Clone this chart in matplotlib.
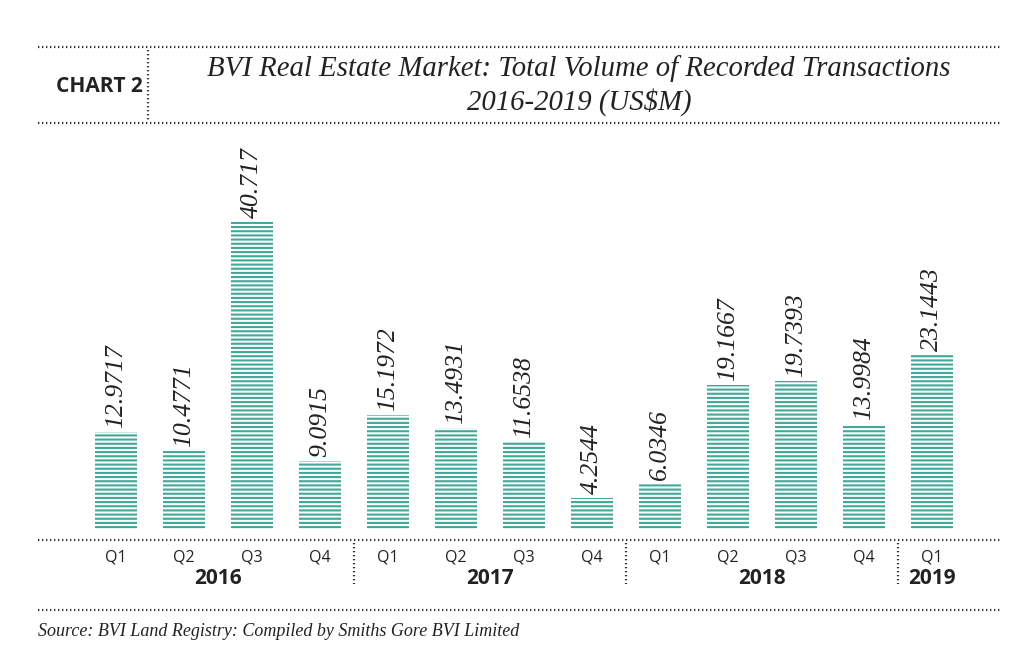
import matplotlib.pyplot as plt
from matplotlib.lines import Line2D

quarters = ["Q1", "Q2", "Q3", "Q4", "Q1", "Q2", "Q3", "Q4", "Q1", "Q2", "Q3", "Q4", "Q1"]
years = ["2016", "2017", "2018", "2019"]
year_quarters = [4, 4, 4, 1]
values = [12.9717, 10.4771, 40.717, 9.0915, 15.1972, 13.4931, 11.6538, 4.2544,
          6.0346, 19.1667, 19.7393, 13.9984, 23.1443]
labels = ["12.9717", "10.4771", "40.717", "9.0915", "15.1972", "13.4931", "11.6538",
          "4.2544", "6.0346", "19.1667", "19.7393", "13.9984", "23.1443"]

W, H = 1024, 659
teal = "#3fa898"
serif = ["Liberation Serif", "DejaVu Serif"]
sans = ["Open Sans", "DejaVu Sans"]

plt.rcParams["hatch.color"] = teal
plt.rcParams["hatch.linewidth"] = 1.5

fig = plt.figure(figsize=(W / 100, H / 100), dpi=100)


def fx(px):
    return px / W


def fy(py):
    return 1 - py / H


def dotted(x0, y0, x1, y1):
    fig.add_artist(Line2D([fx(x0), fx(x1)], [fy(y0), fy(y1)], color="#333333",
                          lw=1.6, linestyle=(0, (0.6, 1.2)), transform=fig.transFigure))


# axes spanning the bar area
ax_l, ax_r, ax_t, ax_b = 38, 1000, 123, 540
ax = fig.add_axes([fx(ax_l), fy(ax_b), fx(ax_r - ax_l), fy(ax_t) - fy(ax_b)])
step = 68
x0 = (116 - ax_l) / step
ax.set_xlim(-x0, -x0 + (ax_r - ax_l) / step)
ppu = 308 / 40.717
ax.set_ylim(-10 / ppu, -10 / ppu + (ax_b - ax_t) / ppu)
ax.axis("off")

xs = list(range(len(values)))
ax.bar(xs, values, width=0.62, color="white", edgecolor=teal, linewidth=0, hatch="----")
for x, v, s in zip(xs, values, labels):
    ax.annotate(s, (x, v), xytext=(0, 3), textcoords="offset points", rotation=90,
                ha="center", va="bottom", fontsize=18.5, style="italic", family=serif,
                color="#222222")

# horizontal dotted rules
dotted(38, 47, 1000, 47)
dotted(38, 123, 1000, 123)
dotted(38, 540, 1000, 540)
dotted(38, 610, 1000, 610)
dotted(148, 50, 148, 120)

# quarter and year labels
for x, q in zip(xs, quarters):
    fig.text(fx(116 + x * step), fy(557), q, ha="center", va="center",
             fontsize=11.5, family=sans, color="#222222")
start = 0
for y, n in zip(years, year_quarters):
    mid = start + (n - 1) / 2
    fig.text(fx(116 + mid * step), fy(578), y, ha="center", va="center",
             fontsize=15, fontweight="bold", family=sans, color="#222222")
    if start > 0:
        sep = 116 + (start - 0.5) * step
        dotted(sep, 543, sep, 584)
    start += n

fig.text(fx(99), fy(87), "CHART 2", ha="center", va="center", fontsize=15,
         fontweight="bold", family=sans, color="#222222")
fig.text(fx(579), fy(69), "BVI Real Estate Market: Total Volume of Recorded Transactions",
         ha="center", va="center", fontsize=20.7, style="italic", family=serif, color="#222222")
fig.text(fx(579), fy(102), "2016-2019 (US$M)", ha="center", va="center",
         fontsize=20.7, style="italic", family=serif, color="#222222")
fig.text(fx(38), fy(632), "Source: BVI Land Registry: Compiled by Smiths Gore BVI Limited",
         ha="left", va="center", fontsize=13, style="italic", family=serif, color="#222222")

fig.savefig("out.png", dpi=100)
